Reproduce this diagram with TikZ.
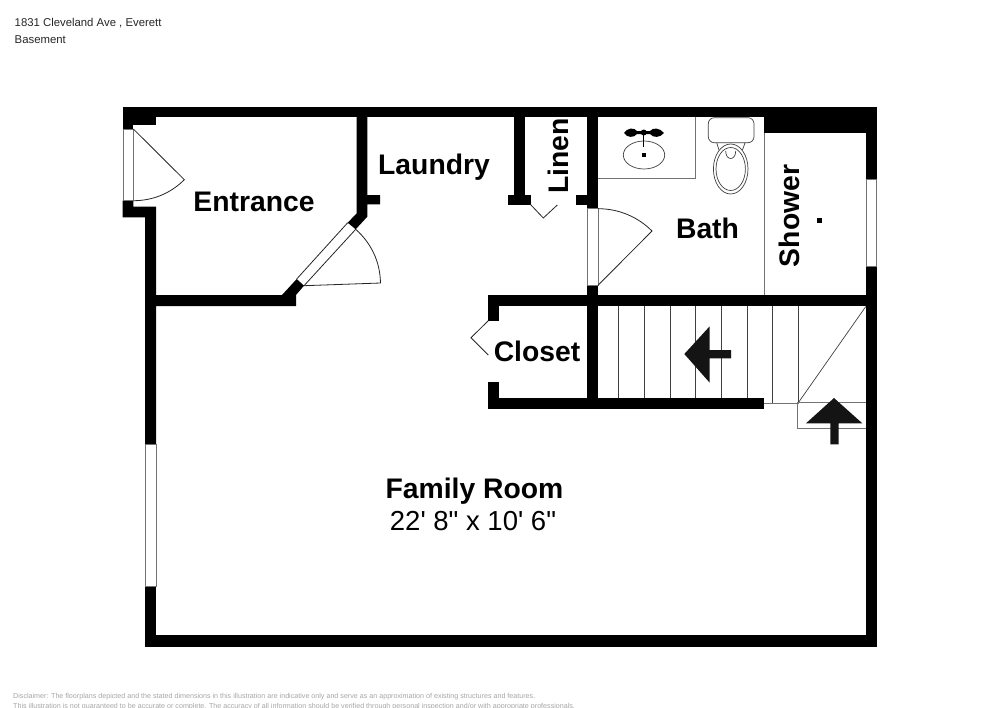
\documentclass[tikz,border=0pt]{standalone}
\usepackage{fontspec}
\setmainfont{Liberation Sans}
\newfontfamily\plainfont{Liberation Sans}
\tikzset{
  wallfill/.style={fill=black},
  opening/.style={draw=black!55,fill=white,line width=0.7pt},
  thinline/.style={draw=black!75,line width=0.7pt},
  lightline/.style={draw=black!55,line width=0.7pt},
  doorline/.style={draw=black!85,line width=0.8pt},
  roomlabel/.style={anchor=base,inner sep=0pt,font=\fontsize{28.3}{30}\selectfont\bfseries},
  dimlabel/.style={anchor=base,inner sep=0pt,font=\fontsize{27.5}{30}\selectfont\plainfont},
  headerlabel/.style={anchor=base west,inner sep=0pt,text=black!85,font=\fontsize{11.35}{13}\selectfont},
  disclaimer/.style={anchor=base west,inner sep=0pt,text=black!35,font=\fontsize{7.14}{9}\selectfont},
  stairarrow/.style={fill=black!92}
}
\begin{document}
\begin{tikzpicture}[x=1pt,y=-1pt]
\useasboundingbox (0,0) rectangle (1000,707);
\fill[white] (0,0) rectangle (1000,707);
% header
\node[headerlabel] (addr) at (14.5,26) {1831 Cleveland Ave , Everett};
\node[headerlabel] (level) at (14.5,43.5) {Basement};
% thin lines below walls
\draw[lightline] (598,178.3) -- (695.3,178.3) -- (695.3,117);
\draw[lightline] (764.7,117) -- (764.7,295);
% stairs
\foreach \sx in {618.7,644.3,670,695.3,721.3,747} \draw[thinline] (\sx,306) -- (\sx,398.5);
\foreach \sx in {772.7,798.7} \draw[thinline] (\sx,306) -- (\sx,403);
\draw[lightline] (764,403) -- (798.7,403);
\draw[thinline] (798.3,402.7) -- (865.8,306.5);
\draw[lightline] (797,402.5) -- (866,402.5);
\draw[lightline] (797,402.5) -- (797,428) -- (866,428);
% stair arrows
\fill[stairarrow] (834,398) -- (862.3,423.3) -- (838.7,423.3) -- (838.7,444.3) -- (830.3,444.3) -- (830.3,423.3) -- (806,423.3) -- cycle;
\fill[stairarrow] (684.3,354) -- (709.7,326.3) -- (709.7,350) -- (731,350) -- (731,358.3) -- (709.7,358.3) -- (709.7,382.7) -- cycle;
% walls
\fill[wallfill] (122.7,106.5) rectangle (876.7,117.3);
\fill[wallfill] (122.7,106.5) rectangle (155.7,124.7);
\fill[wallfill] (122.7,106.5) rectangle (133.4,129);
\fill[wallfill] (122.7,200.7) -- (133.4,200.7) -- (133.4,206.7) -- (156,206.7) -- (156,295) -- (282,295)
  -- (296.7,279) -- (304,285.7) -- (296,295) -- (296,306) -- (156,306) -- (156,444) -- (145,444) -- (145,217.3) -- (122.7,217.3) -- cycle;
\fill[wallfill] (145,586.3) rectangle (156,646.7);
\fill[wallfill] (145,635) rectangle (876.7,646.7);
\fill[wallfill] (356.7,117) -- (367.3,117) -- (367.3,195) -- (380,195) -- (380,204.3) -- (367.3,204.3) -- (367.3,216.7)
  -- (355.7,229.3) -- (347.7,222.7) -- (356.7,213.3) -- cycle;
\fill[wallfill] (514.3,117) rectangle (525.3,195);
\fill[wallfill] (508,195) rectangle (531,205);
\fill[wallfill] (586.7,117) rectangle (598,208.7);
\fill[wallfill] (576,195) rectangle (598,205);
\fill[wallfill] (587,285.3) rectangle (598,409.3);
\fill[wallfill] (488,295) rectangle (876.7,306);
\fill[wallfill] (488,295) rectangle (499.3,320.7);
\fill[wallfill] (488,381.7) rectangle (499.3,409.3);
\fill[wallfill] (488,398.3) rectangle (764,409.3);
\fill[wallfill] (764.3,106.5) rectangle (876.7,133.3);
\fill[wallfill] (866,106.5) rectangle (876.7,179.3);
\fill[wallfill] (866,266) rectangle (876.7,646.7);
% openings
\draw[opening] (123,129) rectangle (133.4,200.7);
\draw[opening] (587.3,208.7) rectangle (598,285.3);
\draw[opening] (866.3,179.3) rectangle (876.5,266);
\draw[opening] (145.3,444) rectangle (156,586.3);
\draw[doorline] (347.7,222.7) -- (296.7,279);
\draw[doorline] (355.7,229.3) -- (304,285.7);
% door swings
\draw[doorline] (133.4,129) -- (184.3,179.7) .. controls (170,194) and (152,200.7) .. (133.4,200.7);
\draw[doorline] (304,285.7) -- (380.5,283) .. controls (380,261) and (371,243) .. (355.7,229.3);
\draw[doorline] (598,285.3) -- (652,231) .. controls (638,217) and (619,208.7) .. (598,208.7);
\draw[doorline] (530.3,204.3) -- (543.3,218) -- (557.3,205);
\draw[doorline] (488.3,320.7) -- (471,337.7) -- (488.3,355);
% sink
\draw[thinline] (644,155) ellipse (20.7 and 14);
\fill (642,153) rectangle (646,157);
\draw[black,line width=1.5pt] (643.7,130) -- (643.7,146.7);
\fill (624,133) .. controls (627,128) and (634,127) .. (637,131) -- (650,131) .. controls (653,127) and (660,128) .. (664,133)
  .. controls (660,138) and (653,138) .. (650,134) -- (637,134) .. controls (634,138) and (627,138) .. (624,133) -- cycle;
\fill (643.7,132.5) circle (3);
% toilet
\draw[thinline,rounded corners=6pt] (708.3,117.7) rectangle (754,142.7);
\draw[thinline] (716.7,142.7) -- (719,150);
\draw[thinline] (745,142.7) -- (742.5,150);
\draw[thinline,fill=white] (730.7,169) ellipse (17.3 and 25);
\draw[thinline] (730.7,169) ellipse (14.7 and 21.5);
\draw[thinline] (725.7,151) .. controls (725.7,161) and (735.7,161) .. (735.7,151);
% shower drain
\fill (817.3,218.3) rectangle (822.3,223.3);
% labels
\node[roomlabel] (entrance) at (254,211.7) {Entrance};
\node[roomlabel] (laundry) at (434,174) {Laundry};
\node[roomlabel,rotate=90] (linen) at (568,156) {Linen};
\node[roomlabel] (bath) at (707.5,238.5) {Bath};
\node[roomlabel,rotate=90] (shower) at (799.3,216) {Shower};
\node[roomlabel] (closet) at (537,361.7) {Closet};
\node[roomlabel] (family) at (474.5,498) {Family Room};
\node[dimlabel] (dims) at (473,530) {22' 8" x 10' 6"};
% disclaimer
\node[disclaimer] (disc1) at (13,698) {Disclaimer: The floorplans depicted and the stated dimensions in this illustration are indicative only and serve as an approximation of existing structures and features.};
\node[disclaimer] (disc2) at (13,708.5) {This illustration is not guaranteed to be accurate or complete. The accuracy of all information should be verified through personal inspection and/or with appropriate professionals.};
\end{tikzpicture}
\end{document}
